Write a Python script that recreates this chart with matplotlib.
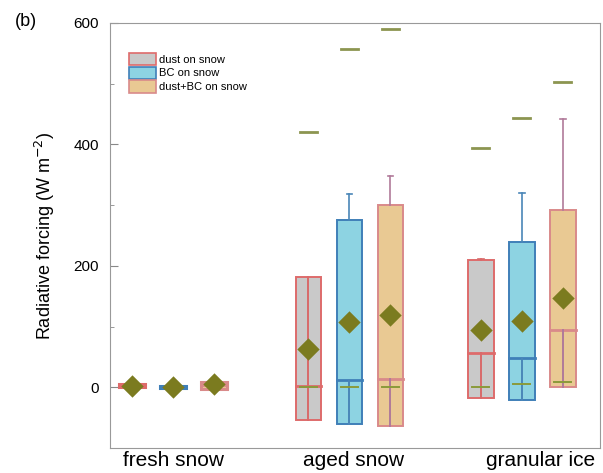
import matplotlib.pyplot as plt
from matplotlib.patches import Rectangle, Patch

plt.rcParams["font.family"] = ["Liberation Sans", "DejaVu Sans"]

groups = ["fresh snow", "aged snow", "granular ice"]
series = ["dust on snow", "BC on snow", "dust+BC on snow"]

# per box, order: fresh (dust, BC, dust+BC), aged (...), granular (...)
box_low = [0, -1, -3, -54, -61, -63, -18, -21, 0]
box_high = [6, 2, 8, 181, 275, 300, 209, 239, 292]
median = [2, 0, 4, 2, 12, 13, 56, 49, 94]
whisker_high = [6, 2, 8, 181, 318, 348, 212, 320, 442]
inner_top = [2, 0, 4, 181, 12, 13, 56, 49, 94]
low_cap = [0, 0, 0, 0, 0, 0, 0, 5, 8]
mean = [2, 1, 5, 63, 107, 119, 94, 109, 147]
max_val = [None, None, None, 420, 557, 590, 394, 443, 503]

face = ["#c9c9c9", "#8dd3e2", "#e9c993"]
edge = ["#de6b6b", "#3f7fb8", "#d98a8a"]
whisk = ["#d96a6a", "#4a86b8", "#b07a9a"]
olive = "#7b7b1f"

fig = plt.figure(figsize=(6.03, 4.73), dpi=100)
ax = fig.add_axes([0.1824, 0.0529, 0.8126, 0.8985])

centers = [0, 4.3, 8.5]
w = 0.63
for g, c in enumerate(centers):
    for s in range(3):
        i = g * 3 + s
        x = c + (s - 1)
        lw = 2.2 if g == 0 else 1.4
        ax.add_patch(Rectangle((x - w / 2, box_low[i]), w, box_high[i] - box_low[i],
                               facecolor=face[s], edgecolor=edge[s], lw=lw, zorder=2))
        ax.plot([x - w / 2, x + w / 2], [median[i]] * 2, color=edge[s], lw=2, zorder=3)
        ax.plot([x, x], [box_low[i], inner_top[i]], color=whisk[s], lw=1.4, zorder=3)
        if whisker_high[i] > box_high[i]:
            ax.plot([x, x], [box_high[i], whisker_high[i]], color=whisk[s], lw=1.2, zorder=3)
            ax.plot([x - 0.07, x + 0.07], [whisker_high[i]] * 2, color=whisk[s], lw=1.2, zorder=3)
        if g > 0:
            ax.plot([x - 0.2, x + 0.2], [low_cap[i]] * 2, color="#8a9a3a", lw=1.4, zorder=3)
        if max_val[i] is not None:
            ax.plot([x - 0.2, x + 0.2], [max_val[i]] * 2, color="#8c9550", lw=2, zorder=3)
        ax.scatter([x], [mean[i]], marker="D", s=130, color=olive, zorder=4, linewidths=0)

ax.set_xlim(-1.54, 10.41)
ax.set_ylim(-100, 600)
# labels sit slightly right of the group centres in the original
ax.set_xticks([0, 4.4, 8.95])
ax.set_xticklabels(groups, fontsize=15)
ax.tick_params(axis="x", length=0, pad=2)
ax.set_yticks([0, 200, 400, 600])
ax.set_yticks([100, 300, 500], minor=True)
ax.tick_params(axis="y", which="major", direction="in", length=6, labelsize=11, color="#888888", pad=8)
ax.tick_params(axis="y", which="minor", direction="in", length=3, color="#888888")
for sp in ax.spines.values():
    sp.set_color("#999999")
ax.set_ylabel("Radiative forcing (W m$^{-2}$)", fontsize=13, labelpad=12)
fig.text(0.025, 0.945, "(b)", fontsize=13)

handles = [Patch(facecolor=face[s], edgecolor=edge[s], lw=1.2) for s in range(3)]
ax.legend(handles, series, loc="upper left", bbox_to_anchor=(0.03, 0.94), frameon=False,
          fontsize=8, handlelength=2.4, handleheight=1.3, labelspacing=0.15, handletextpad=0.3,
          borderaxespad=0)

fig.savefig("out.png", dpi=100)
